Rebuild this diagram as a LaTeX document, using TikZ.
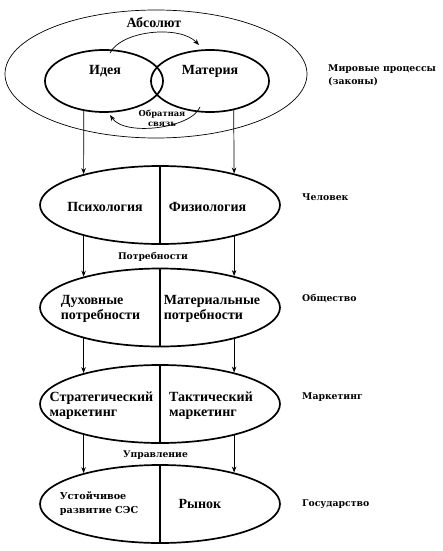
\documentclass[tikz,border=0pt]{standalone}
\usepackage{fontspec}
\setmainfont{Liberation Serif}
\newfontfamily\sidefont{DejaVu Serif}
\usetikzlibrary{arrows.meta,shapes.geometric}
\begin{document}
\begin{tikzpicture}[x=1pt,y=1pt,
  big/.style={ellipse,draw,line width=1.7pt,minimum width=240pt,minimum height=78pt,inner sep=0pt},
  small/.style={ellipse,draw,line width=1.7pt,minimum width=118pt,minimum height=62pt,inner sep=0pt},
  outer/.style={ellipse,draw,line width=0.7pt,minimum width=302pt,minimum height=128pt,inner sep=0pt},
  lbl/.style={font=\bfseries\fontsize{14}{15}\selectfont,align=left,inner sep=0pt},
  side/.style={font=\sidefont\bfseries\fontsize{9.3}{13}\selectfont,align=left,anchor=west,inner sep=0pt},
  mid/.style={font=\sidefont\bfseries\fontsize{9.2}{11}\selectfont,align=center,inner sep=0pt},
  arr/.style={-{Stealth[length=6pt,width=4.5pt]},line width=0.7pt},
  divider/.style={line width=1.3pt}]
\useasboundingbox (0,0) rectangle (442,-551);
% top block
\node[outer] (abs) at (156,-74) {};
\node[small] (idea) at (104,-81) {};
\node[small] (mat) at (210,-81) {};
\node[lbl] (tabs) at (154,-23) {Абсолют};
\node[lbl] (tidea) at (105,-71) {Идея};
\node[lbl] (tmat) at (210,-71) {Материя};
\coordinate (f1) at (110,-53);
\coordinate (f2) at (199,-45);
\coordinate (f3) at (200,-107);
\coordinate (f4) at (110,-115);
\draw[arr] (f1) .. controls (122,-30) and (180,-25) .. (f2);
\draw[arr] (f3) .. controls (192,-128) and (125,-137) .. (f4);
\node[mid,font=\sidefont\bfseries\fontsize{8.3}{10}\selectfont] (tfb) at (162,-118) {Обратная\\связь};
\node[side] (tmir) at (328,-75) {Мировые процессы\\(законы)};
% big ellipses
\node[big] (e1) at (160,-205) {};
\node[big] (e2) at (160,-307.5) {};
\node[big] (e3) at (160,-404) {};
\node[big] (e4) at (160,-504) {};
\foreach \e in {e1,e2,e3,e4} \draw[divider] (\e.north) -- (\e.south);
% texts
\node[lbl] (t11) at (105,-207) {Психология};
\node[lbl] (t12) at (207.5,-207) {Физиология};
\node[lbl] (t21) at (100.5,-308.5) {Духовные\\потребности};
\node[lbl] (t22) at (212,-308.5) {Материальные\\потребности};
\node[lbl] (t31) at (101.5,-405.5) {Стратегический\\маркетинг};
\node[lbl] (t32) at (211,-405.5) {Тактический\\маркетинг};
\node[lbl,font=\sidefont\bfseries\fontsize{9.6}{14}\selectfont] (t41) at (99,-504) {Устойчивое\\развитие СЭС};
\node[lbl] (t42) at (200,-504) {Рынок};
\node[mid] (tpot) at (153,-257) {Потребности};
\node[mid] (tupr) at (155.5,-455) {Управление};
\node[side] (s1) at (302,-197) {Человек};
\node[side] (s2) at (302,-299) {Общество};
\node[side] (s3) at (302,-397) {Маркетинг};
\node[side] (s4) at (302,-504) {Государство};
% arrows
\draw[arr] (idea.236) -- (e1.158);
\draw[arr] (mat.-51) -- (e1.23);
\draw[arr] (e1.202) -- (e2.158);
\draw[arr] (e1.337) -- (e2.23);
\draw[arr] (e2.202) -- (e3.158);
\draw[arr] (e2.337) -- (e3.23);
\draw[arr] (e3.202) -- (e4.158);
\draw[arr] (e3.337) -- (e4.23);
\end{tikzpicture}
\end{document}
